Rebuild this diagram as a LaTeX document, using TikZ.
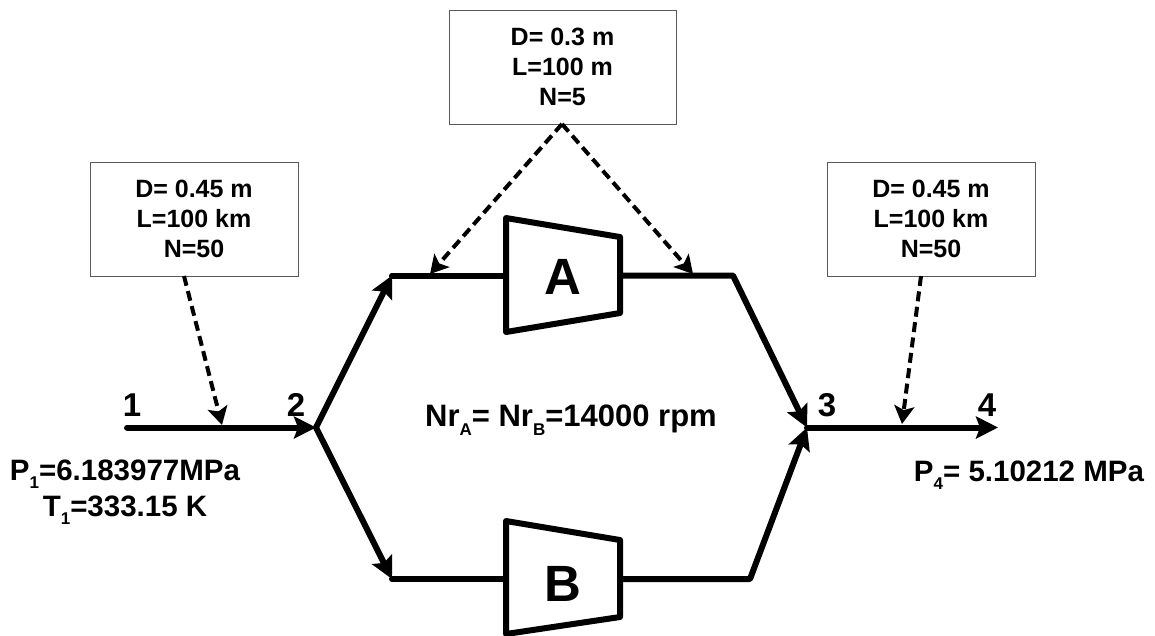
\documentclass[tikz,border=0pt]{standalone}
\usepackage{fontspec}
\setmainfont{Liberation Sans}
\usetikzlibrary{arrows.meta}
\newcommand{\subs}[1]{\raisebox{-0.28em}{\fontsize{17}{17}\selectfont #1}}
\tikzset{
  x=1pt,y=-1pt,
  txt/.style={inner sep=0pt,font=\bfseries},
  infobox/.style={draw=black!65,line width=1pt,fill=white,inner sep=0pt,align=center,
    font=\fontsize{25}{30}\selectfont\bfseries},
  pipe/.style={line width=6pt,line cap=round,line join=round},
  pipearrow/.style={pipe,-{Stealth[length=22pt,width=22pt,inset=4pt]}},
  dasharrow/.style={line width=4pt,dash pattern=on 10pt off 5.5pt,-{Stealth[length=18pt,width=20pt,inset=4pt]}},
  turbine/.style={line width=6pt,line join=round,line cap=round,fill=white},
  num/.style={txt,font=\fontsize{33}{33}\selectfont\bfseries},
  big/.style={txt,font=\fontsize{51}{51}\selectfont\bfseries},
  lab/.style={txt,font=\fontsize{29.5}{36}\selectfont\bfseries,align=center}
}
\begin{document}
\begin{tikzpicture}
\useasboundingbox (0,0) rectangle (1155,635);
% flow points
\coordinate (p1) at (127,427.5);
\coordinate (p2) at (316,427.5);
\coordinate (up) at (392,275.5);
\coordinate (lo) at (392,579);
\coordinate (ar) at (733,275.5);
\coordinate (br) at (750,579);
\coordinate (p3) at (807,427.5);
\coordinate (p4) at (998,427.5);
\coordinate (ain) at (506,275.5);
\coordinate (aout) at (620,275.5);
\coordinate (bin) at (506,579);
\coordinate (bout) at (620,579);
\coordinate (t1) at (222,425);
\coordinate (t2) at (430,274);
\coordinate (t3) at (693,274);
\coordinate (t4) at (902,424);
% info boxes
\node[infobox,minimum width=208pt,minimum height=114pt] (box1) at (194,219) {D= 0.45 m\\L=100 km\\N=50};
\node[infobox,minimum width=227pt,minimum height=114pt] (box2) at (562.5,67) {D= 0.3 m\\L=100 m\\N=5};
\node[infobox,minimum width=208pt,minimum height=114pt] (box3) at (931,219) {D= 0.45 m\\L=100 km\\N=50};
\coordinate (d1) at (184,276);
\coordinate (d2) at (562,124);
\coordinate (d3) at (921,276);
% pipes
\draw[pipearrow] (p1) -- (p2);
\draw[pipearrow] (p2) -- (up);
\draw[pipearrow] (p2) -- (lo);
\draw[pipe] (up) -- (ain);
\draw[pipe] (lo) -- (bin);
\draw[pipearrow] (aout) -- (ar) -- (p3);
\draw[pipearrow] (bout) -- (br) -- (p3);
\draw[pipearrow] (p3) -- (p4);
% turbines
\draw[turbine] (506,218) -- (620,237) -- (620,313) -- (506,332) -- cycle;
\draw[turbine] (506,521) -- (620,540) -- (620,617) -- (506,634) -- cycle;
\node[big] (A) at (563,277) {A};
\node[big] (B) at (563,584) {B};
% dashed
\draw[dasharrow] (d1) -- (t1);
\draw[dasharrow] (d2) -- (t2);
\draw[dasharrow] (d2) -- (t3);
\draw[dasharrow] (d3) -- (t4);
% labels
\node[num] (n1) at (132,405) {1};
\node[num] (n2) at (296,405) {2};
\node[num] (n3) at (827,405) {3};
\node[num] (n4) at (987,405) {4};
\node[lab,font=\fontsize{31}{36}\selectfont\bfseries] (nr) at (571,420) {Nr\subs{A}= Nr\subs{B}=14000 rpm};
\node[lab] (pt) at (125,492) {P\subs{1}=6.183977MPa\\T\subs{1}=333.15 K};
\node[lab] (pf) at (1029,475) {P\subs{4}= 5.10212 MPa};
\end{tikzpicture}
\end{document}
